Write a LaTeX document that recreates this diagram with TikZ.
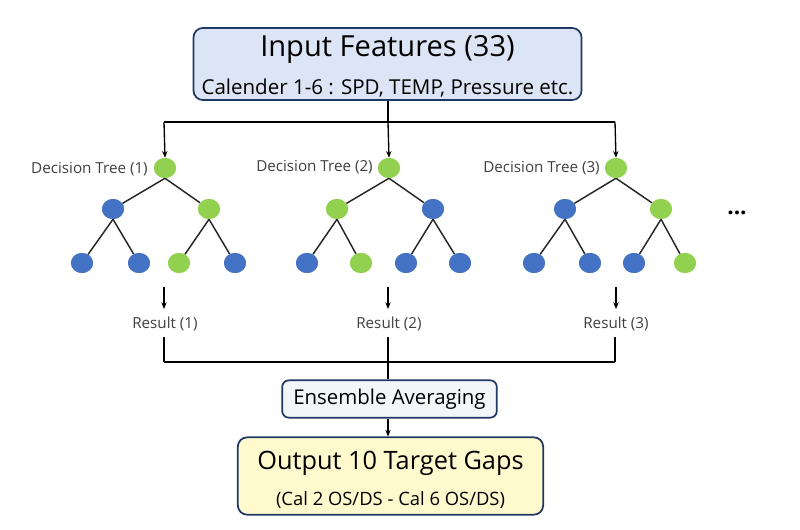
\documentclass[tikz,border=0pt]{standalone}
\usepackage{fontspec}
\setmainfont{Open Sans}
\usetikzlibrary{arrows.meta,shapes.geometric}
\definecolor{navy}{HTML}{1F3864}
\definecolor{tblue}{HTML}{4472C4}
\definecolor{tgreen}{HTML}{92D050}
\definecolor{topfill}{HTML}{DCE5F5}
\definecolor{ensfill}{HTML}{F4F5F8}
\definecolor{outfill}{HTML}{FFFACD}
\definecolor{lbl}{HTML}{404040}
\begin{document}
\begin{tikzpicture}[x=0.75pt,y=-0.75pt,
  box/.style={draw=navy,line width=1.3pt,rounded corners=7pt,inner sep=0pt},
  bnode/.style={ellipse,fill=tblue,minimum width=16.5pt,minimum height=15pt,inner sep=0pt},
  gnode/.style={ellipse,fill=tgreen,minimum width=16.5pt,minimum height=15pt,inner sep=0pt},
  edge/.style={line width=1.1pt,black!85},
  conn/.style={line width=1pt,black},
  arr/.style={conn,-{Stealth[length=5pt,width=4pt]}},
  lab/.style={text=lbl,font=\fontsize{11.4}{12}\selectfont,inner sep=0pt},
]
\useasboundingbox (0,0) rectangle (800,529);

% top box
\node[box,fill=topfill,minimum width=291pt,minimum height=54pt] (top) at (387.5,64) {};
\node[inner sep=0pt,font=\fontsize{21.8}{24}\selectfont] (toptitle) at (387.5,49) {Input Features (33)};
\node[inner sep=0pt,font=\fontsize{15.4}{17}\selectfont] (topsub) at (387.5,88) {Calender 1-6 : SPD, TEMP, Pressure etc.};

% distribution lines
\coordinate (j2) at (388,122);
\coordinate (j1) at (164,122);
\coordinate (j3) at (615,122);
\draw[conn] (top.south -| j2) -- (j2);
\draw[conn] (j1) -- (j3);

% Tree 1
\node[gnode] (r1) at (165,168) {};
\node[bnode] (a1) at (113,209) {};
\node[gnode] (b1) at (209,209) {};
\node[bnode] (c1) at (82,263) {};
\node[bnode] (d1) at (139,263) {};
\node[gnode] (e1) at (179,263) {};
\node[bnode] (f1) at (235,263) {};
% Tree 2
\node[gnode] (r2) at (389,168) {};
\node[gnode] (a2) at (337,209) {};
\node[bnode] (b2) at (433,209) {};
\node[bnode] (c2) at (307,263) {};
\node[gnode] (d2) at (361,263) {};
\node[bnode] (e2) at (406,263) {};
\node[bnode] (f2) at (460,263) {};
% Tree 3
\node[gnode] (r3) at (616,168) {};
\node[bnode] (a3) at (565,209) {};
\node[gnode] (b3) at (661,209) {};
\node[bnode] (c3) at (534,263) {};
\node[bnode] (d3) at (590,263) {};
\node[bnode] (e3) at (634,263) {};
\node[gnode] (f3) at (685,263) {};

\foreach \t in {1,2,3} {
  \draw[edge] (r\t.south) -- (a\t);
  \draw[edge] (r\t.south) -- (b\t);
  \draw[edge] (a\t.south) -- (c\t);
  \draw[edge] (a\t.south) -- (d\t);
  \draw[edge] (b\t.south) -- (e\t);
  \draw[edge] (b\t.south) -- (f\t);
}
% redraw nodes on top
\foreach \n/\s in {r1/gnode,a1/bnode,b1/gnode,c1/bnode,d1/bnode,e1/gnode,f1/bnode,
                   r2/gnode,a2/gnode,b2/bnode,c2/bnode,d2/gnode,e2/bnode,f2/bnode,
                   r3/gnode,a3/bnode,b3/gnode,c3/bnode,d3/bnode,e3/bnode,f3/gnode}
  \node[\s] at (\n) {};

% tree labels
\node[lab,anchor=east] (dt1) at (148,169) {Decision Tree (1)};
\node[lab,anchor=east] (dt2) at (373,167) {Decision Tree (2)};
\node[lab,anchor=east] (dt3) at (600,168) {Decision Tree (3)};

\draw[arr] (j1) -- (r1.north);
\draw[arr] (j2) -- (r2.north);
\draw[arr] (j3) -- (r3.north);

% results
\node[lab] (res1) at (165,324) {Result (1)};
\node[lab] (res2) at (389,324) {Result (2)};
\node[lab] (res3) at (616,324) {Result (3)};
\coordinate (t1) at (164,287);
\coordinate (t2) at (388,287);
\coordinate (t3) at (616,287);
\draw[arr] (t1) -- ++(0,22);
\draw[arr] (t2) -- ++(0,22);
\draw[arr] (t3) -- ++(0,22);

% dots
\node[inner sep=0pt,font=\fontsize{17}{17}\bfseries] (dots) at (737,213) {...};

% collection
\coordinate (k1) at (164,362);
\coordinate (k2) at (388,362);
\coordinate (k3) at (615,362);
\draw[conn] (164,337) -- (k1);
\draw[conn] (615,337) -- (k3);
\draw[conn] (k1) -- (k3);

% ensemble
\node[box,fill=ensfill,minimum width=161pt,minimum height=28pt,rounded corners=5pt] (ens) at (389.5,399) {};
\node[inner sep=0pt,font=\fontsize{15.3}{17}\selectfont] (enst) at (389.5,399) {Ensemble Averaging};
\draw[conn] (388,337) -- (ens.north -| k2);

% output
\node[box,fill=outfill,minimum width=229pt,minimum height=58pt] (out) at (390.5,476) {};
\node[inner sep=0pt,font=\fontsize{19}{21}\selectfont] (outt) at (390.5,463) {Output 10 Target Gaps};
\node[inner sep=0pt,font=\fontsize{13.8}{15}\selectfont] (outs) at (390.5,500) {(Cal 2 OS/DS - Cal 6 OS/DS)};
\draw[arr] (ens.south -| k2) -- (out.north -| k2);
\end{tikzpicture}
\end{document}
